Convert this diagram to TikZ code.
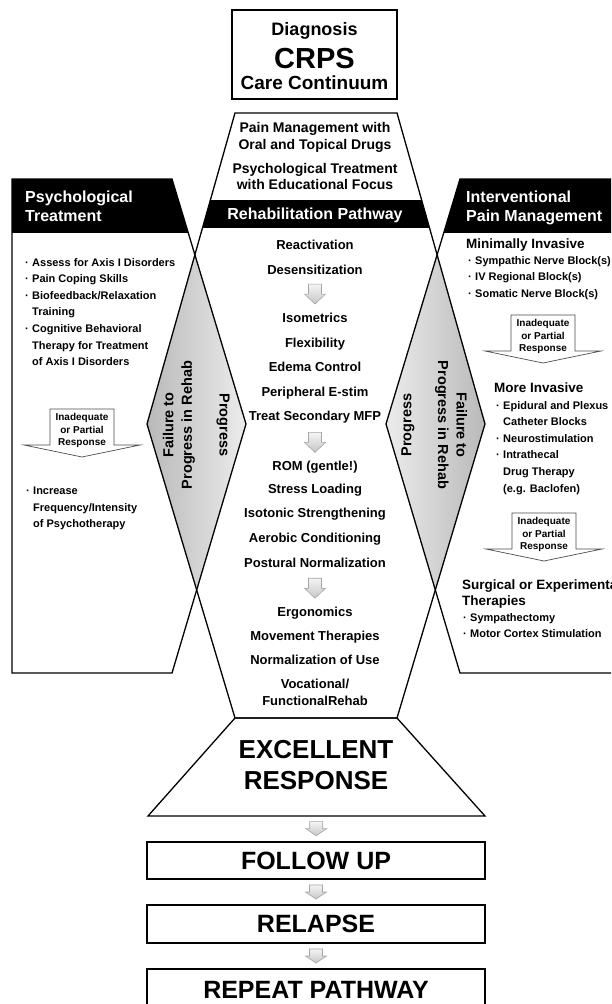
\documentclass[tikz,border=0pt]{standalone}
\usepackage{fontspec}
\setmainfont{Liberation Sans}
\usetikzlibrary{calc}

\newcommand{\bul}{\makebox[7pt][l]{·}}
\newcommand{\ind}{\hspace*{7pt}}

\tikzset{
  outline/.style={line width=1.3pt, line join=miter},
  headtext/.style={text=white, font=\fontsize{16}{18.5}\selectfont\bfseries, align=left, anchor=north west, inner sep=0pt},
  bandtext/.style={text=white, font=\fontsize{16}{18}\selectfont\bfseries, anchor=base, inner sep=0pt},
  toptext/.style={font=\fontsize{14}{16}\selectfont\bfseries, anchor=base, inner sep=0pt},
  stepitem/.style={font=\fontsize{13}{17}\selectfont\bfseries, anchor=base, inner sep=0pt},
  bullets/.style={font=\fontsize{11}{16.6}\selectfont\bfseries, align=left, anchor=north west, inner sep=0pt},
  subhead/.style={font=\fontsize{13.5}{16}\selectfont\bfseries, align=left, anchor=north west, inner sep=0pt},
  sidelabel/.style={font=\fontsize{14.5}{18.5}\selectfont\bfseries, align=center, inner sep=0pt},
  resptext/.style={font=\fontsize{10}{12.5}\selectfont\bfseries, align=center, inner sep=0pt},
  bigtext/.style={font=\fontsize{26}{30}\selectfont\bfseries, anchor=base, inner sep=0pt},
  stagebox/.style={draw, outline, minimum width=338pt, inner sep=0pt, font=\fontsize{25}{28}\selectfont\bfseries},
  respline/.style={draw=gray!60!black, fill=white, line width=0.7pt},
  stepline/.style={draw=gray!70, line width=0.6pt, top color=gray!8, bottom color=gray!45},
  % outlined block arrow with the "Inadequate" note
  pics/respArrow/.style={code={
    \draw[respline] (-32,0) -- (32,0) -- (32,36) -- (58,36) -- (0,48) -- (-58,36) -- (-32,36) -- cycle;
    \node[resptext] (-txt) at (0,21.5) {Inadequate\\or Partial\\Response};
  }},
  % small grey arrow between steps
  pics/stepArrow/.style={code={
    \draw[stepline] (-6.5,-10) -- (6.5,-10) -- (6.5,0) -- (10.5,0) -- (0,10) -- (-10.5,0) -- (-6.5,0) -- cycle;
  }}
}

\begin{document}
\begin{tikzpicture}[x=1pt,y=-1pt]
  \useasboundingbox (0,0) rectangle (611,1004);
  \clip (0,0) rectangle (611,1004);
  \fill[white] (0,0) rectangle (611,1004);

  % central hexagon and the two side panels
  \coordinate (h1) at (235,113);
  \coordinate (h2) at (397,113);
  \coordinate (h3) at (485,424);
  \coordinate (h4) at (397,718);
  \coordinate (h5) at (235,718);
  \coordinate (h6) at (147,424);
  \coordinate (l1) at (12,179);
  \coordinate (l2) at (172,179);
  \coordinate (l3) at (246,424);
  \coordinate (l4) at (172,673);
  \coordinate (l5) at (12,673);
  \coordinate (r1) at (460,179);
  \coordinate (r2) at (660,179);
  \coordinate (r3) at (660,673);
  \coordinate (r4) at (460,673);
  \coordinate (r5) at (386,424);

  % grey overlaps
  \begin{scope}
    \clip (h1) -- (h2) -- (h3) -- (h4) -- (h5) -- (h6) -- cycle;
    \begin{scope}
      \clip (l1) -- (l2) -- (l3) -- (l4) -- (l5) -- cycle;
      \shade[left color=gray!55, right color=gray!15] (147,250) rectangle (246,600);
    \end{scope}
    \begin{scope}
      \clip (r1) -- (r2) -- (r3) -- (r4) -- (r5) -- cycle;
      \shade[left color=gray!15, right color=gray!55] (386,250) rectangle (485,600);
    \end{scope}
    \fill[black] (140,200) rectangle (500,228);
  \end{scope}

  % black headers
  \begin{scope}
    \clip (l1) -- (l2) -- (l3) -- (l4) -- (l5) -- cycle;
    \fill[black] (0,179) rectangle (260,233);
  \end{scope}
  \begin{scope}
    \clip (r1) -- (r2) -- (r3) -- (r4) -- (r5) -- cycle;
    \fill[black] (380,179) rectangle (660,233);
  \end{scope}

  \draw[outline] (h1) -- (h2) -- (h3) -- (h4) -- (h5) -- (h6) -- cycle;
  \draw[outline] (l1) -- (l2) -- (l3) -- (l4) -- (l5) -- cycle;
  \draw[outline] (r1) -- (r2) -- (r3) -- (r4) -- (r5) -- cycle;
  \coordinate (e1) at (148,816);
  \coordinate (e2) at (485,816);
  \draw[outline] (h5) -- (h4) -- (e2) -- (e1) -- cycle;

  % title box
  \node[draw, outline, minimum width=165pt, minimum height=89pt] (diagbox) at (314.5,54.5) {};
  \node[font=\fontsize{18}{20}\selectfont\bfseries, anchor=base, inner sep=0pt] (diag) at (314.5,35.5) {Diagnosis};
  \node[font=\fontsize{29}{32}\selectfont\bfseries, anchor=base, inner sep=0pt] (crps) at (314.5,68.5) {CRPS};
  \node[font=\fontsize{19}{21}\selectfont\bfseries, anchor=base, inner sep=0pt] (cont) at (314.5,89) {Care Continuum};

  \node[toptext] (top1) at (315,132) {Pain Management with};
  \node[toptext] (top2) at (315,149) {Oral and Topical Drugs};
  \node[toptext] (top3) at (315,173) {Psychological Treatment};
  \node[toptext] (top4) at (315,189) {with Educational Focus};
  \node[bandtext] (rehab) at (315,219) {Rehabilitation Pathway};

  % rehab steps
  \foreach \y/\t [count=\i] in {245/Reactivation, 270/Desensitization, 318/Isometrics,
      343/Flexibility, 367/Edema Control, 392/Peripheral E-stim, 416/Treat Secondary MFP,
      466/ROM (gentle!), 489/Stress Loading, 513/Isotonic Strengthening,
      538/Aerobic Conditioning, 563/Postural Normalization, 612/Ergonomics,
      636/Movement Therapies, 660/Normalization of Use}
    \node[stepitem] (item\i) at (315,\y+4.7) {\t};
  \node[stepitem, anchor=center, align=center] (item16) at (315,692.5) {Vocational/\\FunctionalRehab};

  \pic at ($(item2)!0.5!(item3)$) {stepArrow};
  \pic at ($(item7)!0.5!(item8)$) {stepArrow};
  \pic at ($(item12)!0.5!(item13)$) {stepArrow};

  % left panel
  \node[headtext] (psyhead) at (25,191) {Psychological\\Treatment};
  \node[bullets] (psylist) at (25,258) {\bul Assess for Axis I Disorders\\
    \bul Pain Coping Skills\\
    \bul Biofeedback/Relaxation\\
    \ind Training\\
    \bul Cognitive Behavioral\\
    \ind Therapy for Treatment\\
    \ind of Axis I Disorders};
  \pic (lresp) at (82,409) {respArrow};
  \node[bullets] (psymore) at (26,487) {\bul Increase\\
    \ind Frequency/Intensity\\
    \ind of Psychotherapy};

  % right panel
  \node[headtext] (inthead) at (466,191) {Interventional\\Pain Management};
  \node[subhead] (minhead) at (466,239) {Minimally Invasive};
  \node[bullets] (minlist) at (468,256) {\bul Sympathic Nerve Block(s)\\
    \bul IV Regional Block(s)\\
    \bul Somatic Nerve Block(s)};
  \pic (rresp1) at (543,315) {respArrow};
  \node[subhead] (morehead) at (494,383) {More Invasive};
  \node[bullets] (morelist) at (496,401) {\bul Epidural and Plexus\\
    \ind Catheter Blocks\\
    \bul Neurostimulation\\
    \bul Intrathecal\\
    \ind Drug Therapy\\
    \ind (e.g. Baclofen)};
  \pic (rresp2) at (544,513) {respArrow};
  \node[subhead] (surghead) at (462,580) {Surgical or Experimental\\Therapies};
  \node[bullets] (surglist) at (463,613) {\bul Sympathectomy\\
    \bul Motor Cortex Stimulation};

  % diamond labels
  \node[sidelabel, rotate=90] (lfail) at (179,425) {Failure to\\Progress in Rehab};
  \node[sidelabel, rotate=-90] (lprog) at (223,425) {Progress};
  \node[sidelabel, rotate=90] (rprog) at (408,425) {Progress};
  \node[sidelabel, rotate=-90] (rfail) at (451,425) {Failure to\\Progress in Rehab};

  % outcome
  \node[bigtext] (exc1) at (316,758) {EXCELLENT};
  \node[bigtext] (exc2) at (316,789) {RESPONSE};
  \node[stagebox, minimum height=37pt] (followup) at (316,860.5) {FOLLOW UP};
  \node[stagebox, minimum height=38pt] (relapse) at (316,924) {RELAPSE};
  \node[stagebox, minimum height=42pt] (repeat) at (316,990) {REPEAT PATHWAY};

  \pic[yscale=0.7] at ($($(e1)!0.5!(e2)$)!0.5!(followup.north)$) {stepArrow};
  \pic[yscale=0.7] at ($(followup.south)!0.5!(relapse.north)$) {stepArrow};
  \pic[yscale=0.7] at ($(relapse.south)!0.5!(repeat.north)$) {stepArrow};
\end{tikzpicture}
\end{document}
